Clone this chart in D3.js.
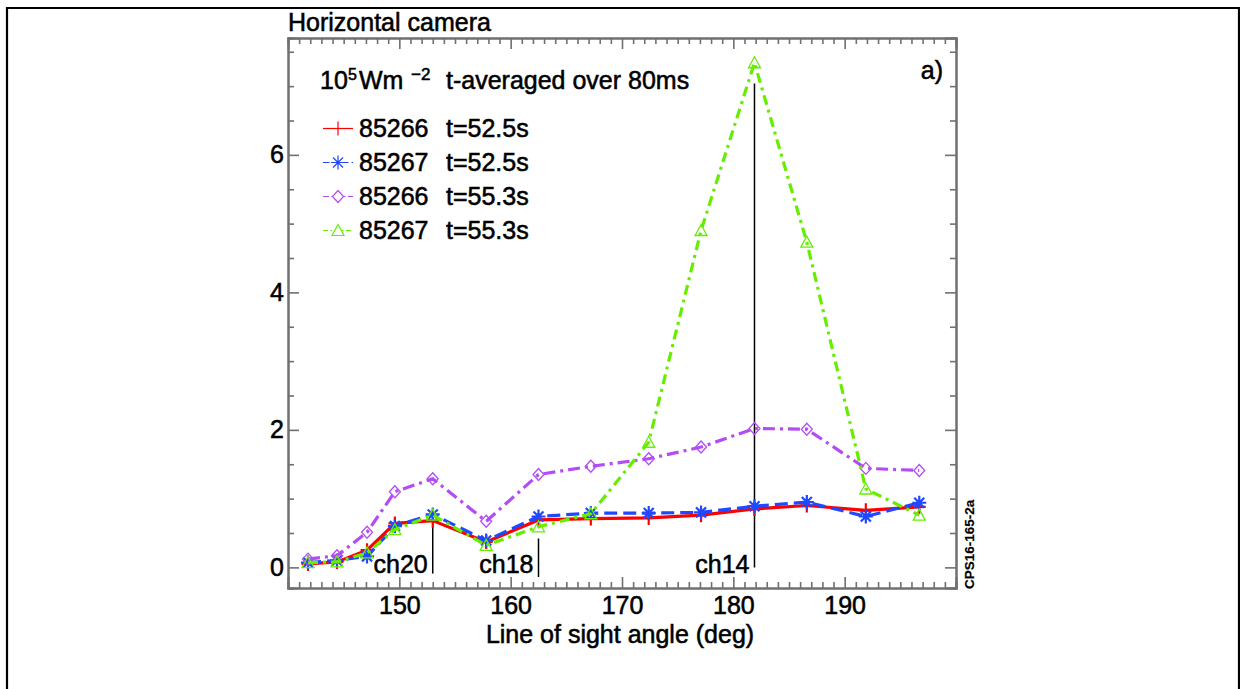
<!DOCTYPE html>
<html><head><meta charset="utf-8">
<script src="https://cdn.jsdelivr.net/npm/d3@7"></script>
<style>
html,body{margin:0;padding:0;background:#fff;}
svg{display:block;font-family:"Liberation Sans",Arial,Helvetica,sans-serif;}
svg text{fill:#000;stroke:#000;stroke-width:0.55px;}
</style></head><body>
<svg id="chart" width="1240" height="689"></svg>
<script>
// Line-of-sight angles of the camera channels (deg)
const angles = [141.8,144.4,147.1,149.6,153.0,157.8,162.5,167.2,172.4,177.1,181.9,186.6,191.9,196.7];
// Heat flux, 10^5 W m^-2, time-averaged over 80 ms
const flux85266_525 = [0.05,0.08,0.25,0.64,0.68,0.37,0.69,0.71,0.72,0.76,0.85,0.90,0.83,0.88];
const flux85267_525 = [0.07,0.10,0.16,0.60,0.77,0.39,0.74,0.79,0.79,0.80,0.89,0.95,0.74,0.94];
const flux85266_553 = [0.12,0.17,0.51,1.10,1.29,0.67,1.35,1.47,1.58,1.75,2.02,2.01,1.44,1.41];
const flux85267_553 = [0.07,0.08,0.21,0.55,0.76,0.32,0.59,0.78,1.82,4.90,7.34,4.73,1.14,0.76];
const seriesShots = ["85266","85267","85266","85267"];
const seriesTimes = ["t=52.5s","t=52.5s","t=55.3s","t=55.3s"];
// Channel markers
const channelNames = ["ch20","ch18","ch14"];
const channelAngles = [153.0,162.5,181.9];
const channelTops = [0.73,0.42,7.04];
const channelBottoms = [-0.09,-0.14,0.0];
// Axis ticks
const xMajorTicks = [150,160,170,180,190];
const xMinorTicks = d3.range(141,200,1).filter(v => v % 10 !== 0);
const yMajorTicks = [0,2,4,6];
const yMinorTicks = [0.5,1,1.5,2.5,3,3.5,4.5,5,5.5,6.5,7,7.5];

const svg = d3.select("#chart");
const W = 1240, H = 689;
const m = {left:288, right:956, top:38, bottom:588};
const x = d3.scaleLinear().domain([140,200]).range([m.left,m.right]);
const y = d3.scaleLinear().domain([-0.3,7.7]).range([m.bottom,m.top]);

// outer frame
svg.append("path")
  .attr("d", `M7,${H+5}V8H1239V${H+5}`)
  .attr("fill","none").attr("stroke","#000").attr("stroke-width",2.2);

const axisColor = "#707070";
const fs = 25;

function styleAxis(g){
  g.selectAll(".domain").attr("stroke",axisColor).attr("stroke-width",2);
  g.selectAll(".tick line").attr("stroke",axisColor).attr("stroke-width",1.6);
  g.selectAll(".tick text").attr("fill","#000").attr("font-size",fs).attr("font-family","Liberation Sans, Arial, sans-serif");
}

// bottom axis
svg.append("g").attr("transform",`translate(0,${m.bottom})`)
  .call(d3.axisBottom(x).tickValues(xMinorTicks).tickSize(-6).tickFormat(""))
  .call(styleAxis);
svg.append("g").attr("transform",`translate(0,${m.bottom})`)
  .call(d3.axisBottom(x).tickValues(xMajorTicks).tickSize(-11).tickPadding(8).tickFormat(d3.format("d")))
  .call(styleAxis);
// top axis
svg.append("g").attr("transform",`translate(0,${m.top})`)
  .call(d3.axisTop(x).tickValues(xMinorTicks).tickSize(-6).tickFormat(""))
  .call(styleAxis);
svg.append("g").attr("transform",`translate(0,${m.top})`)
  .call(d3.axisTop(x).tickValues(xMajorTicks).tickSize(-11).tickFormat(""))
  .call(styleAxis);
// left axis
svg.append("g").attr("transform",`translate(${m.left},0)`)
  .call(d3.axisLeft(y).tickValues(yMinorTicks).tickSize(-6).tickFormat(""))
  .call(styleAxis);
svg.append("g").attr("transform",`translate(${m.left},0)`)
  .call(d3.axisLeft(y).tickValues(yMajorTicks).tickSize(-11).tickPadding(4).tickFormat(d3.format("d")))
  .call(styleAxis);
// right axis
svg.append("g").attr("transform",`translate(${m.right},0)`)
  .call(d3.axisRight(y).tickValues(yMinorTicks).tickSize(-6).tickFormat(""))
  .call(styleAxis);
svg.append("g").attr("transform",`translate(${m.right},0)`)
  .call(d3.axisRight(y).tickValues(yMajorTicks).tickSize(-11).tickFormat(""))
  .call(styleAxis);

// titles
svg.append("text").attr("x",288).attr("y",30.5).attr("font-size",fs).text("Horizontal camera");
svg.append("text").attr("x",620).attr("y",643).attr("text-anchor","middle").attr("font-size",fs)
  .text("Line of sight angle (deg)");
svg.append("text").attr("x",943).attr("y",79).attr("text-anchor","end").attr("font-size",fs).text("a)");
svg.append("text").attr("transform","translate(974,589) rotate(-90)")
  .attr("font-size",13.5).attr("font-weight","bold").style("stroke-width","0.2px").text("CPS16-165-2a");

// units header
const hdrY = 89;
svg.append("text").attr("x",320).attr("y",hdrY).attr("font-size",fs).text("10");
svg.append("text").attr("x",348).attr("y",hdrY-9).attr("font-size",16).text("5");
svg.append("text").attr("x",359).attr("y",hdrY).attr("font-size",fs).text("Wm");
svg.append("text").attr("x",411).attr("y",hdrY-9).attr("font-size",17).text("\u22122");
svg.append("text").attr("x",446).attr("y",hdrY).attr("font-size",fs).text("t-averaged over 80ms");

// channel markers
channelNames.forEach((name,i) => {
  svg.append("line")
    .attr("x1",x(channelAngles[i])).attr("x2",x(channelAngles[i]))
    .attr("y1",y(channelTops[i])).attr("y2",y(channelBottoms[i]))
    .attr("stroke","#000").attr("stroke-width",1.5);
  svg.append("text").attr("x",x(channelAngles[i])-5).attr("y",573)
    .attr("text-anchor","end").attr("font-size",fs).text(name);
});

// series
const symbols = {
  plus: "M-6.5,0H6.5M0,-7V7",
  star: "M-7,0H7M0,-7V7M-5,-5L5,5M-5,5L5,-5",
  diamond: "M0,-6L5.5,0L0,6L-5.5,0Z",
  triangle: "M0,-6L6,5H-6Z"
};
const series = [
  {vals:flux85266_525, color:"#ff0000", dash:null, sym:"plus"},
  {vals:flux85267_525, color:"#1f48ff", dash:"13,6", sym:"star"},
  {vals:flux85266_553, color:"#b44cf6", dash:"12,5,3,5", sym:"diamond"},
  {vals:flux85267_553, color:"#66ee00", dash:"10,5,3,5", sym:"triangle"}
];
const line = d3.line().x(d => x(d[0])).y(d => y(d[1]));

series.forEach(s => {
  const pts = angles.map((a,i) => [a, s.vals[i]]);
  svg.append("path").datum(pts).attr("d",line)
    .attr("fill","none").attr("stroke",s.color).attr("stroke-width",3.2)
    .attr("stroke-dasharray",s.dash).attr("stroke-linejoin","round");
  svg.append("g").selectAll("path").data(pts).join("path")
    .attr("transform",d => `translate(${x(d[0])},${y(d[1])})`)
    .attr("d",symbols[s.sym]).attr("fill","none").attr("stroke",s.color)
    .attr("stroke-width", s.sym==="plus"||s.sym==="star" ? 2.2 : 1.3);
});

// legend
const legendY = [128.5,162.5,196.5,230.5];
series.forEach((s,i) => {
  const ly = legendY[i];
  svg.append("line").attr("x1",323).attr("x2",353).attr("y1",ly).attr("y2",ly)
    .attr("stroke",s.color).attr("stroke-width",1.2)
    .attr("stroke-dasharray", s.dash ? s.dash.split(",").map(v=>v*0.5).join(",") : null);
  svg.append("path").attr("transform",`translate(338,${ly})`).attr("d",symbols[s.sym])
    .attr("fill","#fff").attr("stroke",s.color).attr("stroke-width",1.2);
  svg.append("text").attr("x",359).attr("y",ly+8.5).attr("font-size",fs).text(seriesShots[i]);
  svg.append("text").attr("x",446).attr("y",ly+8.5).attr("font-size",fs).text(seriesTimes[i]);
});
</script>
</body></html>
